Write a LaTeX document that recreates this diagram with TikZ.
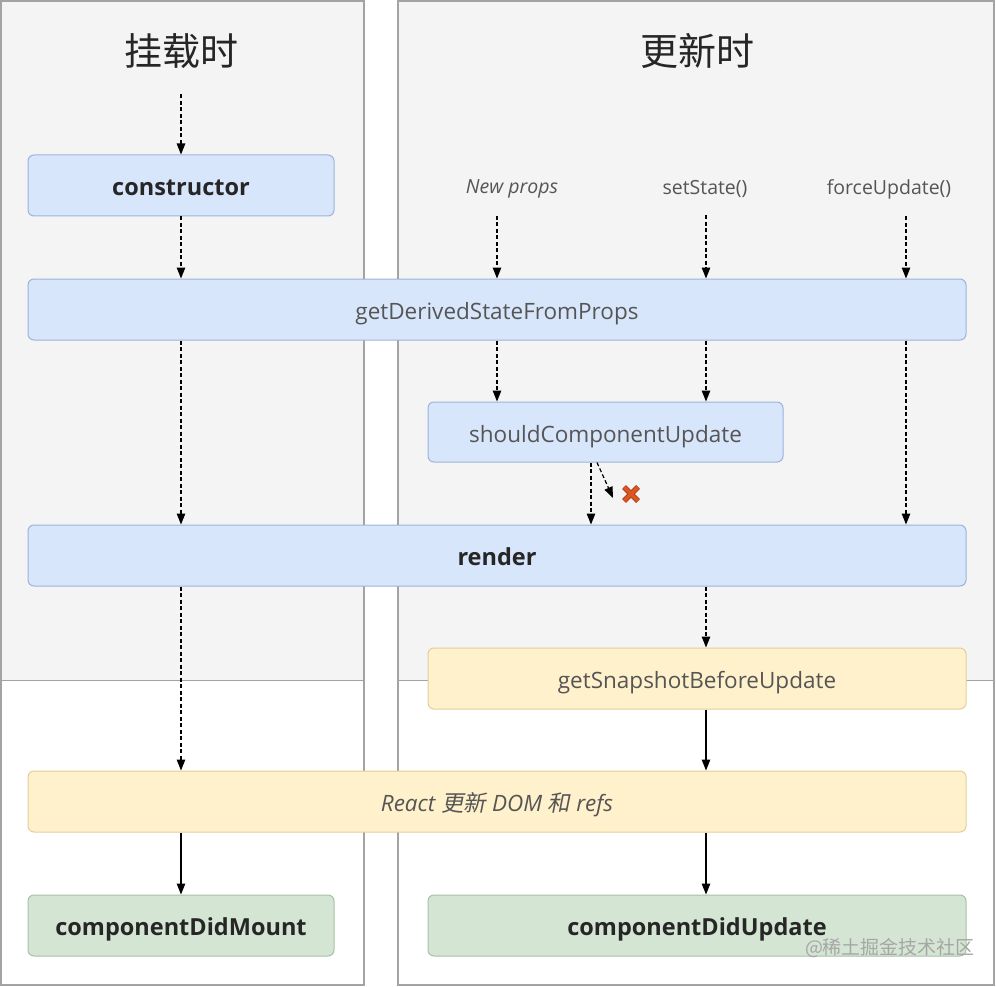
\documentclass[tikz,border=0pt]{standalone}
\usepackage{fontspec}
\setmainfont{Open Sans}
\newfontfamily\cjk{Noto Sans CJK SC}
\newfontfamily\cjkslant[FakeSlant=0.2]{Noto Sans CJK SC}
\usetikzlibrary{positioning,arrows.meta}

\definecolor{panelbg}{HTML}{F4F4F4}
\definecolor{panelline}{HTML}{A3A3A3}
\definecolor{bluefill}{HTML}{D8E6FB}
\definecolor{blueline}{HTML}{9CB3DA}
\definecolor{yellowfill}{HTML}{FFF1CB}
\definecolor{yellowline}{HTML}{E3CF98}
\definecolor{greenfill}{HTML}{D4E6D3}
\definecolor{greenline}{HTML}{A7C2A5}
\definecolor{labelgray}{HTML}{555555}
\definecolor{crossred}{HTML}{DD5522}

\tikzset{
  lifebox/.style={rectangle,rounded corners=6pt,line width=1pt,minimum height=61pt,
    text height=20pt,text depth=0pt,
    font=\fontsize{22.5}{26}\selectfont,text=labelgray},
  bluebox/.style={lifebox,fill=bluefill,draw=blueline},
  yellowbox/.style={lifebox,fill=yellowfill,draw=yellowline},
  greenbox/.style={lifebox,fill=greenfill,draw=greenline},
  strong/.style={font=\fontsize{23.5}{26}\selectfont\bfseries,text=black!85},
  heading/.style={font=\cjk\fontsize{38}{44}\selectfont,text=black!85},
  trigger/.style={font=\fontsize{19.5}{22}\selectfont,text=labelgray},
  dasharrow/.style={-{Triangle[length=11pt,width=8.5pt]},line width=1.2pt,dash pattern=on 4pt off 2.5pt},
  solidarrow/.style={-{Triangle[length=11pt,width=8.5pt]},line width=1.3pt},
}

\begin{document}
\begin{tikzpicture}[x=1pt,y=-1pt]
    \useasboundingbox[fill=white] (0,0) rectangle (996,987);

    % panels
    \fill[panelbg] (1,1) rectangle (364,680);
    \fill[panelbg] (398,1) rectangle (994,680);
    \draw[panelline,line width=1.5pt] (1,1) rectangle (364,985);
    \draw[panelline,line width=1.5pt] (398,1) rectangle (994,985);
    \draw[panelline,line width=1pt] (1,680) -- (364,680);
    \draw[panelline,line width=1pt] (398,680) -- (994,680);

    \node[heading] (mounthead) at (181,51) {挂载时};
    \node[heading] (updatehead) at (697,51) {更新时};

    \node[trigger,font=\fontsize{19.5}{22}\selectfont\itshape] (newprops) at (512,189) {New props};
    \node[trigger] (setstate) at (705,189) {setState()};
    \node[trigger] (forceupdate) at (889,189) {forceUpdate()};

    % columns of the arrows
    \coordinate (colA) at (181,0);
    \coordinate (colB) at (497,0);
    \coordinate (colC) at (591,0);
    \coordinate (colD) at (706,0);
    \coordinate (colE) at (906,0);

    \node[bluebox,strong,minimum width=306pt] (constructor) at (181,185.5) {constructor};
    \node[bluebox,minimum width=938pt] (gdsfp) at (497,309.5) {getDerivedStateFromProps};
    \node[bluebox,minimum width=355pt,minimum height=60pt] (scu) at (605.5,432) {shouldComponentUpdate};
    \node[bluebox,strong,minimum width=938pt] (render) at (497,555.5) {render};
    \node[yellowbox,minimum width=538pt] (snapshot) at (697,678.5) {getSnapshotBeforeUpdate};
    \node[yellowbox,minimum width=938pt,font=\fontsize{22.5}{26}\selectfont\itshape] (react) at (497,801.5) {React {\cjkslant 更新} DOM {\cjkslant 和} refs};
    \node[greenbox,strong,minimum width=306pt] (didmount) at (181,925.5) {componentDidMount};
    \node[greenbox,strong,minimum width=538pt] (didupdate) at (697,925.5) {componentDidUpdate};

    \node[minimum size=16pt,inner sep=0pt] (nox) at (631,494) {};
    \draw[crossred!80!black,line width=5.5pt] ([shift={(-7pt,7pt)}]nox.center) -- ([shift={(7pt,-7pt)}]nox.center)
        ([shift={(-7pt,-7pt)}]nox.center) -- ([shift={(7pt,7pt)}]nox.center);
    \draw[crossred,line width=3.5pt] ([shift={(-7pt,7pt)}]nox.center) -- ([shift={(7pt,-7pt)}]nox.center)
        ([shift={(-7pt,-7pt)}]nox.center) -- ([shift={(7pt,7pt)}]nox.center);

    \node[font=\cjk\fontsize{19}{22}\selectfont,text=black!35] (watermark) at (890,948) {@稀土掘金技术社区};

    % mounting
    \draw[dasharrow,shorten <=22pt] (mounthead) -- (constructor);
    \draw[dasharrow] (constructor) -- (gdsfp.north -| colA);
    \draw[dasharrow] (gdsfp.south -| colA) -- (render.north -| colA);
    \draw[dasharrow] (render.south -| colA) -- (react.north -| colA);
    \draw[solidarrow] (react.south -| colA) -- (didmount);

    % updating
    \draw[dasharrow] ([yshift=-14pt]newprops.south -| colB) -- (gdsfp.north -| colB);
    \draw[dasharrow] ([yshift=-14pt]setstate.south -| colD) -- (gdsfp.north -| colD);
    \draw[dasharrow] ([yshift=-14pt]forceupdate.south -| colE) -- (gdsfp.north -| colE);
    \draw[dasharrow] (gdsfp.south -| colB) -- (scu.north -| colB);
    \draw[dasharrow] (gdsfp.south -| colD) -- (scu.north -| colD);
    \draw[dasharrow] (gdsfp.south -| colE) -- (render.north -| colE);
    \draw[dasharrow] (scu.south -| colC) -- (render.north -| colC);
    \draw[dasharrow] ([xshift=6pt]scu.south -| colC) -- ([xshift=-18pt,yshift=-4pt]nox.center);
    \draw[dasharrow] (render.south -| colD) -- (snapshot.north -| colD);
    \draw[solidarrow] (snapshot.south -| colD) -- (react.north -| colD);
    \draw[solidarrow] (react.south -| colD) -- (didupdate.north -| colD);
\end{tikzpicture}
\end{document}
